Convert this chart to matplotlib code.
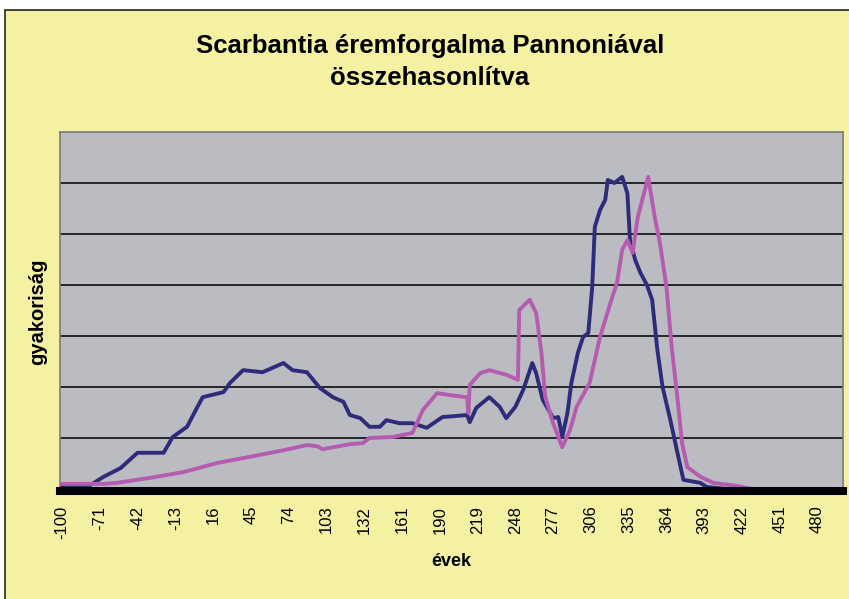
import matplotlib.pyplot as plt
from matplotlib.patches import Rectangle

# Scarbantia (sötétkék) és Pannonia (lila) görbéje, leolvasott értékek
scarb_ev = [-100, -78, -68, -55, -42, -22, -15, -4, 4, 8, 24, 29, 39, 54, 70, 77,
            88, 98, 108, 116, 121, 129, 136, 144, 149, 159, 169, 180, 192, 211, 213,
            218, 228, 236, 241, 248, 254, 261, 264, 269, 277, 281, 284, 288, 291,
            296, 300, 304, 307, 309, 313, 317, 319, 324, 330, 334, 336, 340, 344,
            349, 353, 357, 361, 367, 372, 377, 390, 395, 410, 500]
scarb_ertek = [0.05, 0.08, 0.24, 0.41, 0.71, 0.71, 1.02, 1.22, 1.61, 1.80, 1.90, 2.08,
               2.33, 2.29, 2.47, 2.33, 2.29, 1.98, 1.80, 1.71, 1.45, 1.39, 1.22, 1.22,
               1.35, 1.29, 1.29, 1.20, 1.41, 1.45, 1.31, 1.59, 1.80, 1.61, 1.39, 1.61,
               1.94, 2.47, 2.27, 1.75, 1.39, 1.41, 1.02, 1.49, 2.08, 2.67, 2.98, 3.06,
               3.96, 5.14, 5.47, 5.67, 6.06, 6.00, 6.12, 5.80, 4.88, 4.49, 4.24, 4.00,
               3.71, 2.73, 2.00, 1.35, 0.76, 0.18, 0.12, 0.04, 0.0, 0.0]

pann_ev = [-100, -68, -58, -32, -7, 19, 44, 70, 88, 96, 100, 121, 131, 136, 154, 169,
           177, 188, 198, 211, 212, 213, 221, 228, 241, 250, 251, 259, 264, 268, 271,
           277, 284, 290, 295, 305, 313, 321, 326, 330, 334, 338, 342, 350, 355, 359,
           364, 368, 372, 376, 380, 390, 400, 418, 430, 500]
pann_ertek = [0.10, 0.10, 0.12, 0.22, 0.33, 0.51, 0.63, 0.76, 0.86, 0.84, 0.78, 0.88,
              0.90, 1.00, 1.02, 1.10, 1.55, 1.88, 1.84, 1.80, 1.49, 2.04, 2.27, 2.33,
              2.24, 2.14, 3.51, 3.71, 3.45, 2.67, 1.80, 1.29, 0.82, 1.16, 1.61, 2.08,
              2.98, 3.65, 4.04, 4.69, 4.88, 4.63, 5.33, 6.12, 5.33, 4.82, 3.96, 2.78,
              1.88, 0.90, 0.43, 0.24, 0.12, 0.06, 0.0, 0.0]

tick_ev = list(range(-100, 481, 29))

sarga = '#F5F1A3'
fig = plt.figure(figsize=(8.49, 5.99), dpi=100, facecolor='white')
fig.patches.append(Rectangle((5 / 849, -0.05), 1.0, 1 - 10 / 599 + 0.05,
                             transform=fig.transFigure, facecolor=sarga,
                             edgecolor='#222222', linewidth=1.2, zorder=-10))

ax = fig.add_axes([60 / 849, 1 - 489 / 599, (843 - 60) / 849, (489 - 132) / 599])
ax.set_zorder(2)
ax.set_facecolor('#BBBCC2')
ax.set_xlim(-101.5, 499.5)
ax.set_ylim(0, 7)

for gy in range(1, 7):
    ax.axhline(gy, color='#1a1a1a', linewidth=1.3, zorder=1)

ax.plot(scarb_ev, scarb_ertek, color='#2E2C7A', linewidth=2.8, zorder=3)
ax.plot(pann_ev, pann_ertek, color='#B55CB0', linewidth=2.8, zorder=3)

# vastag fekete alapvonal
ax.axhline(-0.04, color='black', linewidth=5.8, zorder=5, clip_on=False)

for s in ['left', 'top', 'right', 'bottom']:
    ax.spines[s].set_color('#7a7a7a')
    ax.spines[s].set_linewidth(1.2)

ax.set_yticks([])
ax.set_xticks(tick_ev)
ax.set_xticklabels([str(t) for t in tick_ev], rotation=90, fontsize=12,
                   family='Liberation Sans')
ax.tick_params(axis='x', length=0, pad=12)

ax.set_xlabel('évek', fontsize=13, fontweight='bold', family='Liberation Sans',
              labelpad=10)
fig.text(38 / 849, 1 - 312 / 599, 'gyakoriság', rotation=90, fontsize=14.5,
         fontweight='bold', family='Liberation Sans', ha='center', va='center')

fig.text(430 / 849, 1 - 46 / 599, 'Scarbantia éremforgalma Pannoniával',
         fontsize=18.5, fontweight='bold', family='Liberation Sans',
         ha='center', va='center')
fig.text(430 / 849, 1 - 78 / 599, 'összehasonlítva', fontsize=18.5,
         fontweight='bold', family='Liberation Sans', ha='center', va='center')

fig.savefig('out.png', dpi=100, facecolor=fig.get_facecolor())
